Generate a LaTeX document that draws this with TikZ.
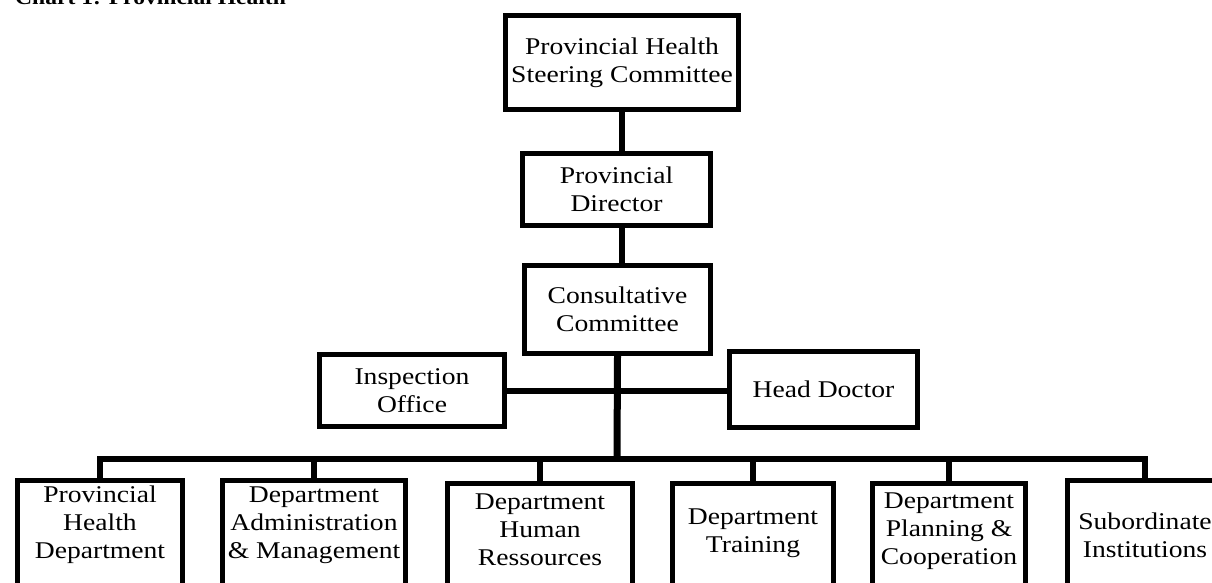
\documentclass[tikz,border=0pt]{standalone}
\usepackage{fontspec}
\setmainfont{Liberation Serif}[FakeStretch=1.15]
\begin{document}
\begin{tikzpicture}[x=1pt,y=-1pt,
  box/.style={draw, line width=5pt, inner sep=0pt, align=center,
    font=\fontsize{24}{28}\selectfont},
  dept/.style={draw, line width=5pt, inner sep=0pt, anchor=north,
    minimum height=160pt},
  lbl/.style={align=center, inner sep=0pt, font=\fontsize{24}{28}\selectfont},
  conn/.style={line width=6pt},
  trunk/.style={line width=7pt}]
\useasboundingbox (0,0) rectangle (1212,583);

% heading
\node[anchor=base west, inner sep=0pt,
  font=\bfseries\fontsize{20.5}{24}\selectfont] (title) at (15,5)
  {Chart 1: Provincial Health};

% upper chain
\node[box, minimum width=233pt, minimum height=94pt] (top) at (622,62.5)
  {Provincial Health\\Steering Committee};
\node[box, minimum width=188pt, minimum height=72pt] (dir) at (616.5,189.5)
  {Provincial\\Director};
\node[box, minimum width=186pt, minimum height=88pt] (cons) at (617.5,309.5)
  {Consultative\\Committee};
\node[box, minimum width=185pt, minimum height=72pt] (insp) at (412,390.5)
  {Inspection\\Office};
\node[box, minimum width=188pt, minimum height=76pt] (head) at (823.5,389.5)
  {Head Doctor};

% departments (boxes run past the lower edge)
\node[dept, minimum width=165pt] (b1) at (100,477.5) {};
\node[dept, minimum width=183pt] (b2) at (314,477.5) {};
\node[dept, minimum width=185pt] (b3) at (540,480.5) {};
\node[dept, minimum width=161pt] (b4) at (753,480.5) {};
\node[dept, minimum width=153pt] (b5) at (949,480.5) {};
\node[dept, minimum width=155pt] (b6) at (1145,477.5) {};

\node[lbl] (t1) at (100,525) {Provincial\\Health\\Department};
\node[lbl] (t2) at (314,525) {Department\\Administration\\\& Management};
\node[lbl] (t3) at (540,530) {Department\\Human\\Ressources};
\node[lbl] (t4) at (753,533.5) {Department\\Training};
\node[lbl] (t5) at (949,531) {Department\\Planning \&\\Cooperation};
\node[lbl] (t6) at (1145,535.5) {Subordinate\\Institutions};

% connectors
\coordinate (bus) at (617,459);
\draw[conn] (top.south) -- (top.south |- dir.north);
\draw[conn] (top.south |- dir.south) -- (top.south |- cons.north);
\draw[trunk] (cons.south) -- (bus);
\draw[conn] (insp.east) -- (insp.east -| head.west);
\draw[conn] (b1.north) |- (bus) -| (b6.north);
\foreach \b in {b2,b3,b4,b5}
  \draw[conn] (\b.north) -- (\b.north |- bus);
\end{tikzpicture}
\end{document}
